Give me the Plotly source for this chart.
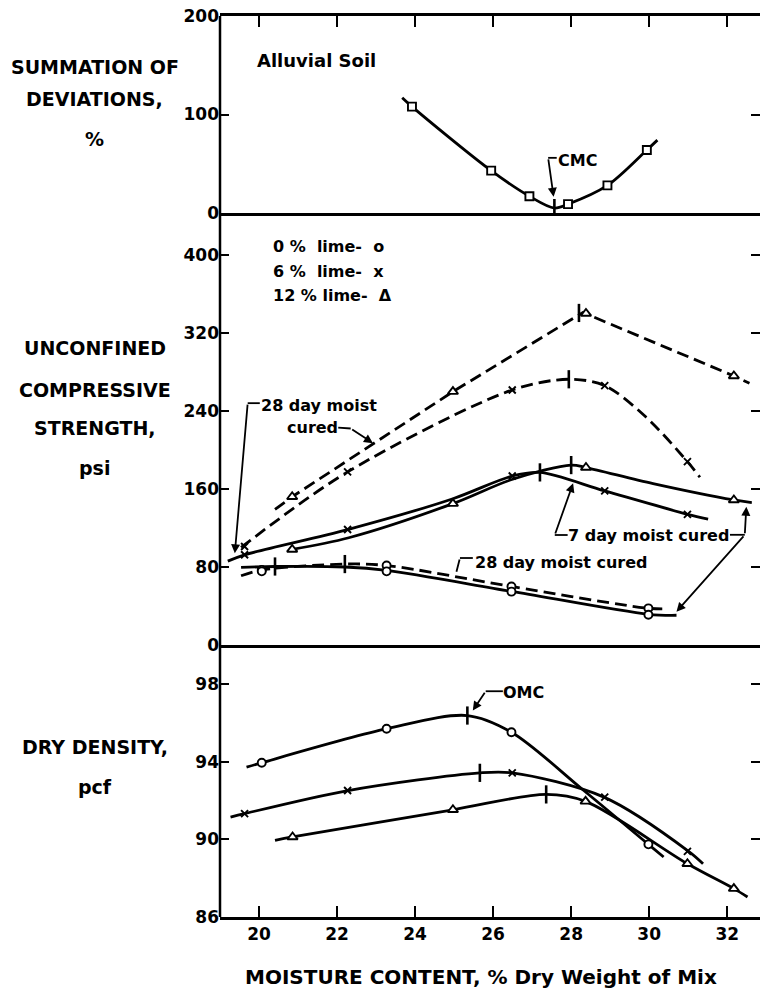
import plotly.graph_objects as go

FONT = "DejaVu Sans"

# ---------------- moisture contents of the specimens (% dry weight of mix) ----------------
mc_dev = [23.92, 25.95, 26.93, 27.92, 28.93, 29.94]
mc_lime0 = [20.07, 23.27, 26.47, 29.98]
mc_lime6 = [19.63, 22.27, 26.49, 28.86, 30.98]
mc_lime12_ucs = [20.85, 24.97, 28.38, 32.17]
mc_lime12_dd = [20.86, 24.97, 28.37, 30.98, 32.17]

# ---------------- summation of deviations, % ----------------
dev_pct = [108, 43, 17, 9, 28, 64]
dev_curve_mc = [23.67, 23.92, 25.95, 26.93, 27.57, 27.92, 28.93, 29.94, 30.21]
dev_curve_pct = [117, 108, 43, 17, 5, 9, 28, 64, 74]
cmc_mc = [27.57]
cmc_pct = [5]

# ---------------- unconfined compressive strength, psi ----------------
ucs28_lime0 = [77, 81.5, 60, 37.6]
ucs7_lime0 = [75.5, 75.5, 54.7, 31]
ucs28_lime6 = [101, 177.5, 261.5, 266, 188]
ucs7_lime6 = [92.5, 118.4, 173.3, 158, 134]
ucs28_lime12 = [152, 259.8, 340, 275.9]
ucs7_lime12 = [98, 145, 182, 148.7]

# fitted strength curves
c28_lime0_mc = [19.54, 20.07, 22.2, 23.27, 26.47, 29.98, 30.45]
c28_lime0_ucs = [71, 77, 83, 81.5, 60, 37.6, 37]
c7_lime0_mc = [19.54, 20.41, 22.2, 23.27, 26.47, 29.98, 30.7]
c7_lime0_ucs = [79.5, 80.5, 80, 76.5, 55, 31.5, 30.5]
c28_lime6_mc = [19.54, 22.27, 26.49, 27.94, 28.86, 29.91, 30.98, 31.3]
c28_lime6_ucs = [100, 177.5, 261.5, 272.5, 266, 234, 188, 172]
c7_lime6_mc = [19.2, 19.63, 22.27, 24.97, 26.49, 27.2, 28.86, 30.98, 31.51]
c7_lime6_ucs = [86, 92.5, 118.4, 150, 173.3, 177, 158, 134, 129]
c28_lime12_mc = [20.41, 20.85, 24.97, 28.3, 32.17, 32.57]
c28_lime12_ucs = [139, 152, 259.8, 341, 275.9, 268.4]
c7_lime12_mc = [20.85, 22.3, 24.97, 26.5, 28.0, 28.38, 30.1, 32.17, 32.63]
c7_lime12_ucs = [98, 110, 145, 170, 184.5, 182, 165.5, 148.7, 146]

# maxima of the strength curves
peak28_mc = [22.2, 27.94, 28.2]
peak28_ucs = [83, 272.5, 340.5]
peak7_mc = [20.41, 27.2, 28.0]
peak7_ucs = [80.5, 177, 184.5]

# ---------------- dry density, pcf ----------------
dd_lime0 = [93.94, 95.69, 95.51, 89.74]
dd_lime6 = [91.32, 92.51, 93.42, 92.17, 89.38]
dd_lime12 = [90.12, 91.52, 91.95, 88.74, 87.46]

dd_c0_mc = [19.68, 20.07, 23.28, 25.34, 26.47, 28.3, 29.98, 30.37]
dd_c0 = [93.71, 93.94, 95.69, 96.37, 95.51, 92.55, 89.74, 89.09]
dd_c6_mc = [19.27, 19.63, 22.28, 25.66, 26.49, 28.84, 31.01, 31.38]
dd_c6 = [91.14, 91.32, 92.51, 93.42, 93.42, 92.17, 89.38, 88.74]
dd_c12_mc = [20.41, 20.86, 24.97, 27.36, 28.37, 30.98, 32.17, 32.52]
dd_c12 = [89.94, 90.12, 91.52, 92.31, 91.95, 88.74, 87.46, 87.03]

omc_mc = [25.34, 25.66, 27.36]
omc_dd = [96.37, 93.42, 92.31]

# ---------------- axes ----------------
X_RANGE = [19, 32.84]
x_ticks = [20, 22, 24, 26, 28, 30, 32]
dev_ticks = [0, 100, 200]
ucs_ticks = [0, 80, 160, 240, 320, 400]
dd_ticks = [86, 90, 94, 98]

LW = 2.8
DASH = "12px,6px"

fig = go.Figure()


def curve(x, y, xa, ya, dash="solid", shape="spline"):
    fig.add_trace(go.Scatter(
        x=x, y=y, xaxis=xa, yaxis=ya, mode="lines",
        line=dict(color="black", width=LW, dash=dash, shape=shape, smoothing=0.9),
        showlegend=False, hoverinfo="skip"))


def points(x, y, xa, ya, symbol, size):
    open_sym = symbol in ("circle", "square", "triangle-up")
    fig.add_trace(go.Scatter(
        x=x, y=y, xaxis=xa, yaxis=ya, mode="markers",
        marker=dict(symbol=symbol, size=size,
                    color="white" if open_sym else "black",
                    line=dict(color="black", width=1.9)),
        showlegend=False, hoverinfo="skip"))


def peaks(x, y, xa, ya):
    fig.add_trace(go.Scatter(
        x=x, y=y, xaxis=xa, yaxis=ya, mode="markers",
        marker=dict(symbol="line-ns", size=13, line=dict(color="black", width=2.6)),
        showlegend=False, hoverinfo="skip"))


# summation of deviations
curve(dev_curve_mc, dev_curve_pct, "x", "y")
points(mc_dev, dev_pct, "x", "y", "square", 8)
peaks(cmc_mc, cmc_pct, "x", "y")

# compressive strength: 28 day (dashed) and 7 day (solid)
curve(c28_lime12_mc, c28_lime12_ucs, "x2", "y2", dash=DASH, shape="linear")
curve(c28_lime6_mc, c28_lime6_ucs, "x2", "y2", dash=DASH)
curve(c28_lime0_mc, c28_lime0_ucs, "x2", "y2", dash=DASH)
curve(c7_lime12_mc, c7_lime12_ucs, "x2", "y2")
curve(c7_lime6_mc, c7_lime6_ucs, "x2", "y2")
curve(c7_lime0_mc, c7_lime0_ucs, "x2", "y2")
points(mc_lime12_ucs, ucs28_lime12, "x2", "y2", "triangle-up", 9)
points(mc_lime12_ucs, ucs7_lime12, "x2", "y2", "triangle-up", 9)
points(mc_lime6, ucs28_lime6, "x2", "y2", "x-thin", 7)
points(mc_lime6, ucs7_lime6, "x2", "y2", "x-thin", 7)
points(mc_lime0, ucs28_lime0, "x2", "y2", "circle", 8)
points(mc_lime0, ucs7_lime0, "x2", "y2", "circle", 8)
peaks(peak28_mc, peak28_ucs, "x2", "y2")
peaks(peak7_mc, peak7_ucs, "x2", "y2")

# dry density
curve(dd_c0_mc, dd_c0, "x3", "y3")
curve(dd_c6_mc, dd_c6, "x3", "y3")
curve(dd_c12_mc, dd_c12, "x3", "y3")
points(mc_lime0, dd_lime0, "x3", "y3", "circle", 8)
points(mc_lime6, dd_lime6, "x3", "y3", "x-thin", 7)
points(mc_lime12_dd, dd_lime12, "x3", "y3", "triangle-up", 9)
peaks(omc_mc, omc_dd, "x3", "y3")

# ---------------- text and leaders ----------------
def txt(text, x, y, xref, yref, size=16, xanchor="center"):
    return dict(text=text, x=x, y=y, xref=xref, yref=yref, showarrow=False,
                xanchor=xanchor, yanchor="middle",
                font=dict(family=FONT, size=size, color="black", weight="bold"))


def arrow(x0, y0, x1, y1, xref, yref, head=2):
    return dict(text="", x=x1, y=y1, ax=x0, ay=y0, xref=xref, yref=yref,
                axref=xref, ayref=yref, showarrow=True, arrowhead=head,
                arrowsize=1, arrowwidth=1.8, arrowcolor="black")


def hook(x0, y0, x1, y1, xref, yref):
    return dict(type="line", x0=x0, y0=y0, x1=x1, y1=y1, xref=xref, yref=yref,
                line=dict(color="black", width=1.8))


annotations = [
    txt("Alluvial Soil", 19.9, 155, "x", "y", size=18, xanchor="left"),
    txt("CMC", 28.16, 53.8, "x", "y"),
    arrow(27.41, 56, 27.55, 16.5, "x", "y"),
    txt("0 %  lime-  o", 20.31, 408.5, "x2", "y2", xanchor="left"),
    txt("6 %  lime-  x", 20.31, 382.9, "x2", "y2", xanchor="left"),
    txt("12 % lime-  \u0394", 20.31, 358, "x2", "y2", xanchor="left"),
    txt("28 day moist", 21.53, 245.6, "x2", "y2"),
    txt("cured", 21.38, 223.1, "x2", "y2"),
    arrow(19.71, 248, 19.38, 94, "x2", "y2"),
    arrow(22.35, 222, 22.92, 207, "x2", "y2"),
    txt("7 day moist cured", 29.99, 111.8, "x2", "y2"),
    arrow(27.58, 112.8, 28.05, 165.8, "x2", "y2"),
    arrow(32.45, 113, 32.49, 141.8, "x2", "y2"),
    arrow(32.45, 113, 30.70, 34.2, "x2", "y2"),
    txt("28 day moist cured", 27.75, 84.6, "x2", "y2"),
    arrow(25.15, 89.2, 25.06, 75.2, "x2", "y2", head=0),
    txt("OMC", 26.79, 97.57, "x3", "y3"),
    arrow(25.81, 97.62, 25.48, 96.63, "x3", "y3"),
    # axis titles
    txt("SUMMATION OF", -0.2315, 0.9434, "paper", "paper", size=19),
    txt("DEVIATIONS,", -0.2315, 0.9079, "paper", "paper", size=19),
    txt("%", -0.2315, 0.8635, "paper", "paper", size=19),
    txt("UNCONFINED", -0.2315, 0.6315, "paper", "paper", size=19),
    txt("COMPRESSIVE", -0.2315, 0.5849, "paper", "paper", size=19),
    txt("STRENGTH,", -0.2315, 0.5427, "paper", "paper", size=19),
    txt("psi", -0.2315, 0.4983, "paper", "paper", size=19),
    txt("DRY DENSITY,", -0.2315, 0.1887, "paper", "paper", size=19),
    txt("pcf", -0.2315, 0.1443, "paper", "paper", size=19),
    txt("MOISTURE CONTENT, % Dry Weight of Mix", 0.483, -0.0666, "paper", "paper", size=20),
]

shapes = [
    hook(27.63, 56, 27.41, 56, "x", "y"),
    hook(20.02, 248, 19.71, 248, "x2", "y2"),
    hook(22.03, 223, 22.35, 222, "x2", "y2"),
    hook(27.91, 112.8, 27.58, 112.8, "x2", "y2"),
    hook(32.07, 113, 32.45, 113, "x2", "y2"),
    hook(25.48, 89.2, 25.15, 89.2, "x2", "y2"),
    hook(26.25, 97.62, 25.81, 97.62, "x3", "y3"),
    # left frame line
    dict(type="line", xref="paper", yref="paper", x0=0, x1=0, y0=0, y1=1,
         line=dict(color="black", width=2.5)),
]

tickfont = dict(family=FONT, size=17, color="black", weight="bold")
common_x = dict(range=X_RANGE, showgrid=False, zeroline=False, linecolor="black",
                linewidth=2.5, tickvals=x_ticks, tickcolor="black", tickwidth=2)
common_y = dict(showgrid=False, zeroline=False, showline=False, ticks="inside",
                ticklen=9, tickwidth=2, tickcolor="black", mirror="ticks",
                tickfont=tickfont)

D_BOT = [0, 0.30189]
D_MID = [0.30189, 0.78135]
D_TOP = [0.78135, 1]

fig.update_layout(
    width=760, height=1002,
    margin=dict(l=220, r=0, t=16, b=85),
    paper_bgcolor="white", plot_bgcolor="white",
    showlegend=False,
    # top frame with ticks; its mirrored line separates the top two panels
    xaxis=dict(common_x, domain=[0, 1], anchor="y", side="top", showline=True,
               mirror=True, ticks="inside", ticklen=11, showticklabels=False),
    # line between the strength and density panels
    xaxis2=dict(common_x, domain=[0, 1], anchor="y2", showline=True, mirror=False,
                ticks="", showticklabels=False),
    xaxis3=dict(common_x, domain=[0, 1], anchor="y3", showline=True, ticks="inside",
                ticklen=11, tickfont=tickfont),
    yaxis=dict(common_y, domain=D_TOP, anchor="x", range=[0, 200], tickvals=dev_ticks),
    yaxis2=dict(common_y, domain=D_MID, anchor="x2", range=[0, 443], tickvals=ucs_ticks),
    yaxis3=dict(common_y, domain=D_BOT, anchor="x3", range=[86, 100], tickvals=dd_ticks),
    annotations=annotations,
    shapes=shapes,
)

fig.write_html("out.html")
